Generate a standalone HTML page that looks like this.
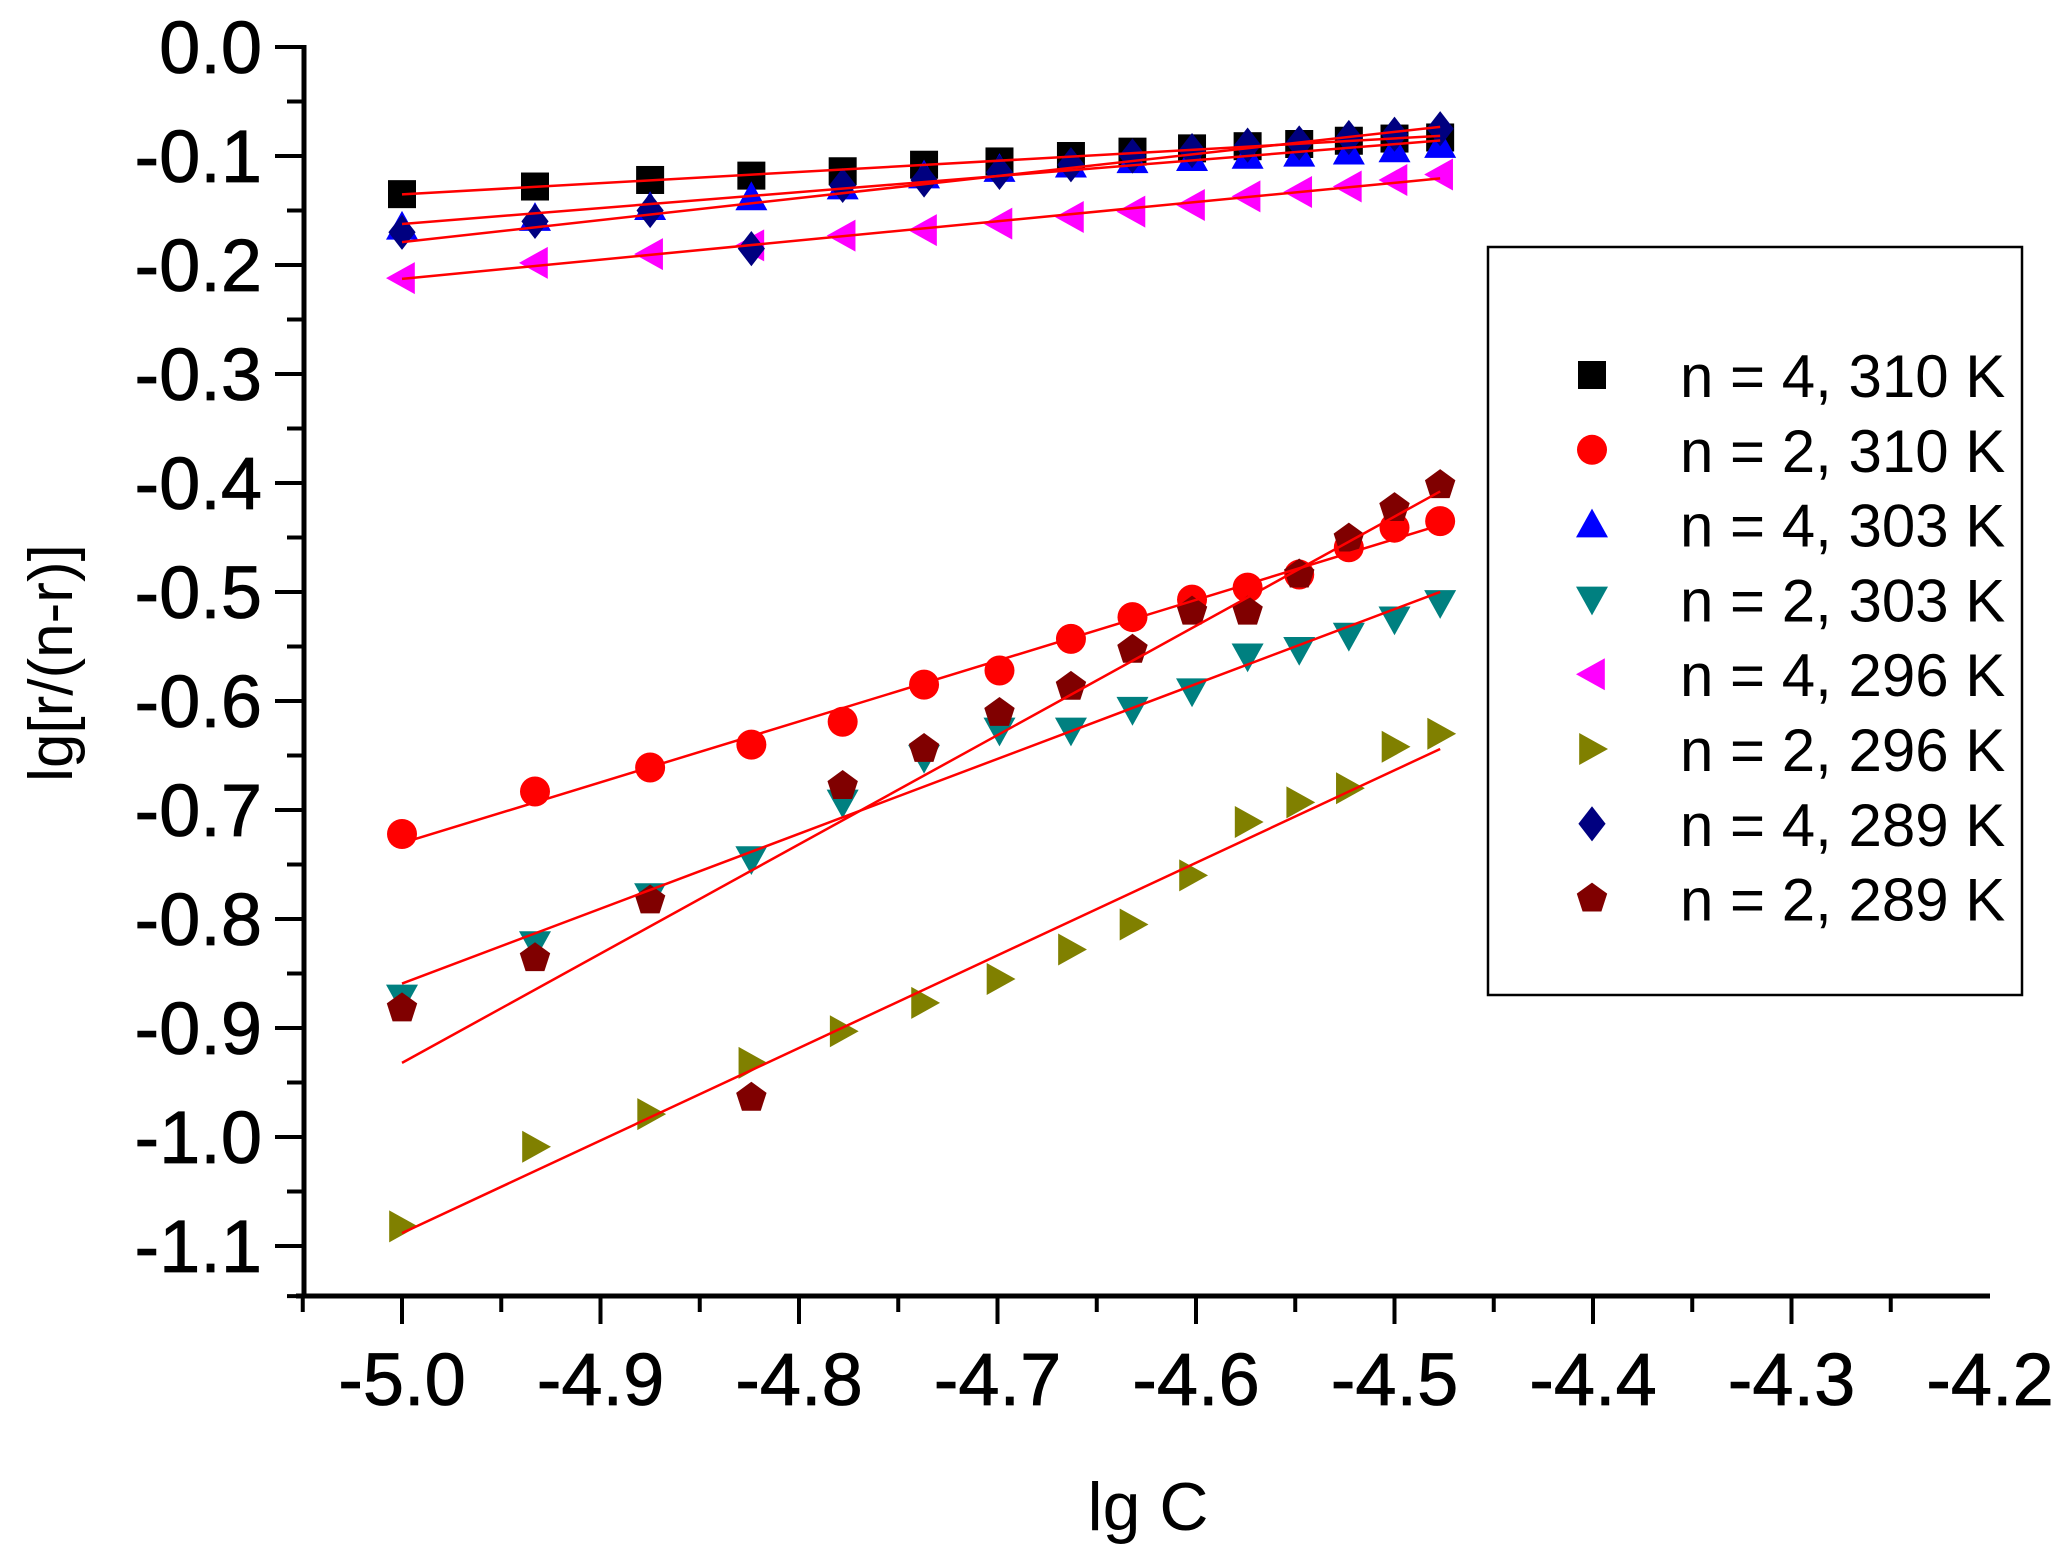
<!DOCTYPE html>
<html><head><meta charset="utf-8"><style>
html,body{margin:0;padding:0;background:#fff;}
svg{display:block;font-family:"Liberation Sans",Arial,sans-serif;}
</style></head><body>
<svg id="chart" width="2070" height="1553" viewBox="0 0 2070 1553" xmlns="http://www.w3.org/2000/svg">
<g id="axes"></g>
<g id="marks"></g>
<g id="fits"></g>
<text x="1148" y="1530" font-size="68" text-anchor="middle">lg C</text>
<text transform="translate(72,663) rotate(-90)" font-size="62" text-anchor="middle">lg[r/(n-r)]</text>
<g id="legend"></g>
</svg>
<script>
const xValues = [-5.0,-4.933,-4.875,-4.824,-4.778,-4.737,-4.699,-4.663,-4.632,-4.602,-4.574,-4.548,-4.523,-4.5,-4.477];
const s4_310 = [-0.135,-0.128,-0.122,-0.118,-0.114,-0.108,-0.105,-0.100,-0.096,-0.093,-0.091,-0.089,-0.086,-0.084,-0.083];
const s2_310 = [-0.722,-0.683,-0.661,-0.640,-0.619,-0.585,-0.572,-0.543,-0.523,-0.507,-0.496,-0.484,-0.459,-0.441,-0.435];
const s4_303 = [-0.165,-0.157,-0.147,-0.138,-0.128,-0.118,-0.112,-0.108,-0.104,-0.102,-0.100,-0.098,-0.096,-0.094,-0.090];
const s2_303 = [-0.872,-0.823,-0.779,-0.745,-0.693,-0.652,-0.627,-0.627,-0.608,-0.591,-0.559,-0.553,-0.540,-0.525,-0.510];
const s4_296 = [-0.212,-0.198,-0.190,-0.182,-0.173,-0.168,-0.162,-0.156,-0.151,-0.145,-0.137,-0.133,-0.128,-0.122,-0.117];
const s2_296 = [-1.082,-1.009,-0.979,-0.932,-0.903,-0.877,-0.855,-0.828,-0.805,-0.760,-0.711,-0.693,-0.680,-0.642,-0.630];
const s4_289 = [-0.170,-0.160,-0.150,-0.185,-0.127,-0.122,-0.115,-0.108,-0.100,-0.095,-0.090,-0.088,-0.083,-0.080,-0.075];
const s2_289 = [-0.882,-0.836,-0.783,-0.964,-0.678,-0.644,-0.611,-0.587,-0.553,-0.518,-0.518,-0.484,-0.451,-0.423,-0.402];
const seriesLabels = ["n = 4, 310 K","n = 2, 310 K","n = 4, 303 K","n = 2, 303 K","n = 4, 296 K","n = 2, 296 K","n = 4, 289 K","n = 2, 289 K"];
const xTicks = [-5.0,-4.9,-4.8,-4.7,-4.6,-4.5,-4.4,-4.3,-4.2];
const xTickLabels = ["-5.0","-4.9","-4.8","-4.7","-4.6","-4.5","-4.4","-4.3","-4.2"];
const yTicks = [0,-0.1,-0.2,-0.3,-0.4,-0.5,-0.6,-0.7,-0.8,-0.9,-1.0,-1.1];
const yTickLabels = ["0.0","-0.1","-0.2","-0.3","-0.4","-0.5","-0.6","-0.7","-0.8","-0.9","-1.0","-1.1"];

const NS="http://www.w3.org/2000/svg";
function X(v){return 402+(v+5.0)*1985;}
function Y(v){return 47-v*1090;}
function mk(tag,attrs,parent){const e=document.createElementNS(NS,tag);for(const k in attrs)e.setAttribute(k,attrs[k]);parent.appendChild(e);return e;}
const axes=document.getElementById('axes');
const xAxis=mk('line',{x1:296,y1:1296,x2:1990,y2:1296,stroke:'#000','stroke-width':5},axes);


const yAxis=mk('line',{x1:304,y1:45,x2:304,y2:1298,stroke:'#000','stroke-width':5},axes);


for(let i=0;i<=16;i++){const v=-5.05+i*0.05;const major=i%2===1;
 mk('line',{x1:X(v),y1:1296,x2:X(v),y2:major?1324:1312,stroke:'#000','stroke-width':4},axes);}
xTicks.forEach((v,i)=>{const t=mk('text',{x:X(v),y:1405,'font-size':74,'text-anchor':'middle',stroke:'#000','stroke-width':0.8},axes);t.textContent=xTickLabels[i];
 
 });
for(let i=0;i<=22;i++){const v=-i*0.05;const major=i%2===0;
 mk('line',{x1:304,y1:Y(v),x2:major?275:287,y2:Y(v),stroke:'#000','stroke-width':4},axes);}
mk('line',{x1:304,y1:Y(-1.146),x2:287,y2:Y(-1.146),stroke:'#000','stroke-width':4},axes);
yTicks.forEach((v,i)=>{const t=mk('text',{x:262,y:Y(v)+26,'font-size':74,'text-anchor':'end',stroke:'#000','stroke-width':0.8},axes);t.textContent=yTickLabels[i];
 
 });

function marker(kind,cx,cy,color,parent){
 const r=16;let e;
 if(kind==='square')e=mk('rect',{x:cx-14,y:cy-14,width:28,height:28,fill:color},parent);
 else if(kind==='circle')e=mk('circle',{cx:cx,cy:cy,r:15,fill:color},parent);
 else {let pts;
  if(kind==='up')pts=[[0,-r],[r,r*0.8],[-r,r*0.8]];
  else if(kind==='down')pts=[[0,r],[r,-r*0.8],[-r,-r*0.8]];
  else if(kind==='left')pts=[[-r,0],[r*0.8,-r],[r*0.8,r]];
  else if(kind==='right')pts=[[r,0],[-r*0.8,-r],[-r*0.8,r]];
  else if(kind==='diamond')pts=[[0,-r*1.1],[r*0.85,0],[0,r*1.1],[-r*0.85,0]];
  else {pts=[];for(let k=0;k<5;k++){const a=-Math.PI/2+k*2*Math.PI/5;pts.push([r*Math.cos(a),r*Math.sin(a)]);}}
  e=mk('polygon',{points:pts.map(p=>(cx+p[0])+','+(cy+p[1])).join(' '),fill:color},parent);}
 return e;}

const series=[[s4_310,'square','#000000'],[s2_310,'circle','#ff0000'],[s4_303,'up','#0000ff'],[s2_303,'down','#008080'],
 [s4_296,'left','#ff00ff'],[s2_296,'right','#808000'],[s4_289,'diamond','#000080'],[s2_289,'pentagon','#800000']];
const marks=document.getElementById('marks');
const fits=document.getElementById('fits');
series.forEach((s,si)=>{
 const g=mk('g',{},marks);
 
 
 s[0].forEach((v,i)=>{const m=marker(s[1],X(xValues[i]),Y(v),s[2],g);
  
  });
 const n=xValues.length;let sx=0,sy=0,sxx=0,sxy=0;
 for(let i=0;i<n;i++){sx+=xValues[i];sy+=s[0][i];sxx+=xValues[i]*xValues[i];sxy+=xValues[i]*s[0][i];}
 const b=(n*sxy-sx*sy)/(n*sxx-sx*sx),a=(sy-b*sx)/n;
 const x0=xValues[0],x1=xValues[n-1];
 const l=mk('line',{x1:X(x0),y1:Y(a+b*x0),x2:X(x1),y2:Y(a+b*x1),stroke:'#ff0000','stroke-width':2.5},fits);
 
 
});
const legend=document.getElementById('legend');
mk('rect',{x:1488,y:247,width:534,height:748,fill:'none',stroke:'#000','stroke-width':2.5},legend);
series.forEach((s,i)=>{const cy=375+i*74.8;
 const g=mk('g',{},legend);
 
 
 marker(s[1],1592,cy,s[2],g);
 const t=mk('text',{x:1680,y:cy+22,'font-size':60},g);t.textContent=seriesLabels[i];});
</script>
</body></html>
